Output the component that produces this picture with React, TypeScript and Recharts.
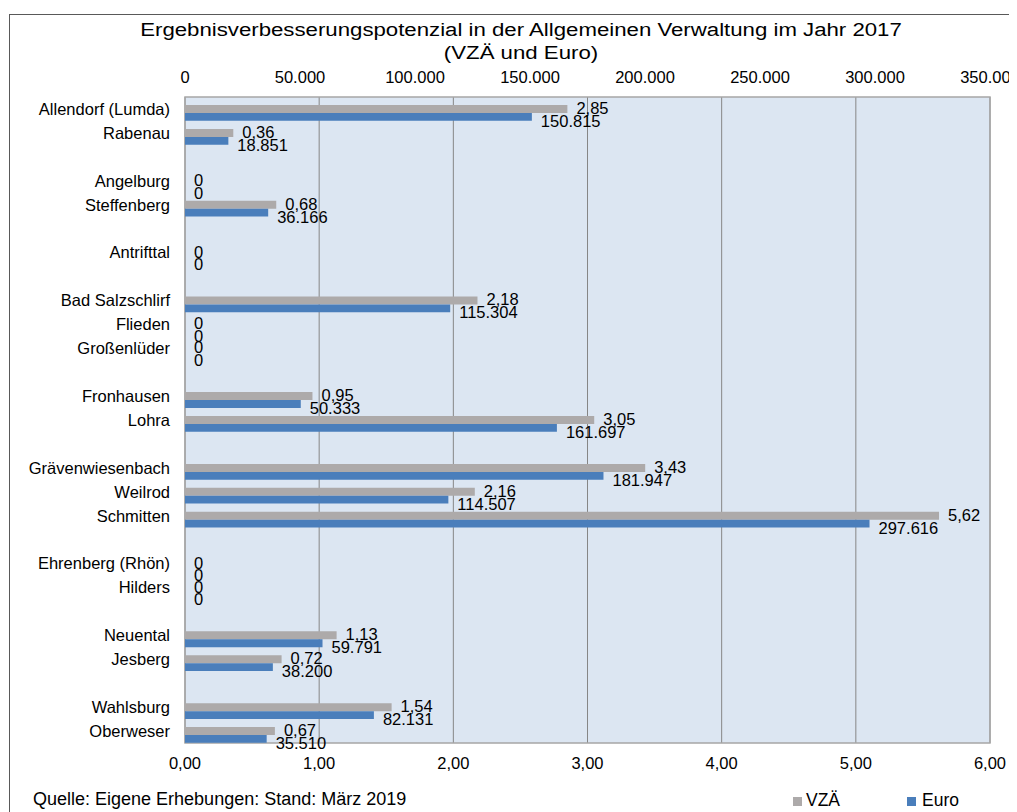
import React from "react";
import { BarChart, Bar, XAxis, YAxis, CartesianGrid, ReferenceArea, LabelList } from "recharts";

const FONT = "'Liberation Sans', Arial, Helvetica, sans-serif";

const categories = [
  "Allendorf (Lumda)", "Rabenau", "", "Angelburg", "Steffenberg", "", "Antrifttal", "",
  "Bad Salzschlirf", "Flieden", "Großenlüder", "", "Fronhausen", "Lohra", "",
  "Grävenwiesenbach", "Weilrod", "Schmitten", "", "Ehrenberg (Rhön)", "Hilders", "",
  "Neuental", "Jesberg", "", "Wahlsburg", "Oberweser",
];
const vzaValues: (number | null)[] = [
  2.85, 0.36, null, 0, 0.68, null, 0, null,
  2.18, 0, 0, null, 0.95, 3.05, null,
  3.43, 2.16, 5.62, null, 0, 0, null,
  1.13, 0.72, null, 1.54, 0.67,
];
const euroValues: (number | null)[] = [
  150815, 18851, null, 0, 36166, null, 0, null,
  115304, 0, 0, null, 50333, 161697, null,
  181947, 114507, 297616, null, 0, 0, null,
  59791, 38200, null, 82131, 35510,
];
const euroTicks = [0, 50000, 100000, 150000, 200000, 250000, 300000, 350000];
const vzaTicks = [0, 1, 2, 3, 4, 5, 6];
const titleLines = [
  "Ergebnisverbesserungspotenzial in der Allgemeinen Verwaltung im Jahr 2017",
  "(VZÄ und Euro)",
];
const sourceNote = "Quelle: Eigene Erhebungen: Stand: März 2019";
const seriesNames = ["VZÄ", "Euro"];
const seriesColors = ["#ADAAAA", "#4A7EBB"];

const data = categories.map((name, i) => ({ name, vza: vzaValues[i], euro: euroValues[i] }));

const fmtThousands = (v: number) =>
  String(Math.round(v)).replace(/\B(?=(\d{3})+(?!\d))/g, ".");
const fmtVzaTick = (v: number) => v.toFixed(2).replace(".", ",");
const fmtVzaLabel = (v: number) => (v === 0 ? "0" : v.toFixed(2).replace(".", ","));

const makeLabel = (fmt: (v: number) => string, dyBase: number) => (props: any) => {
  const vb = props.viewBox && typeof props.viewBox.x === "number" ? props.viewBox : props;
  const { x, y, height } = vb;
  const width = Math.max(0, Number(vb.width) || 0);
  const value = props.value;
  if (value === null || value === undefined || Number.isNaN(Number(value))) return null;
  const w = Number(value) === 0 ? 0 : width;
  return (
    <text
      x={x + w + 9}
      y={y + height / 2 + dyBase}
      fontSize={16.5}
      fontFamily={FONT}
      fill="#000"
      textAnchor="start"
    >
      {fmt(Number(value))}
    </text>
  );
};

const grayLabel = makeLabel(fmtVzaLabel, 5);
const blueLabel = makeLabel(fmtThousands, 10);

// keeps zero-valued bars (invisible sliver) so that their "0" labels are drawn
const zeroKeep = (value: any) => (value === 0 ? 0.01 : 0);

const tickStyle = { fontSize: 16.5, fill: "#000", fontFamily: FONT };

export default function App() {
  return (
    <div style={{ position: "relative", width: 1009, height: 804, overflow: "hidden", background: "#fff", fontFamily: FONT }}>
      <div
        style={{
          position: "absolute",
          left: 1,
          top: 6,
          width: 1200,
          height: 1000,
          borderLeft: "1px solid #595959",
          borderTop: "1px solid #595959",
        }}
      />
      <div style={{ position: "absolute", left: 0, top: 0 }}>
        <BarChart
          width={1009}
          height={770}
          data={data}
          layout="vertical"
          barCategoryGap={0}
          barGap={0}
          margin={{ top: 59, right: 27, bottom: 5, left: 0 }}
        >
          <CartesianGrid xAxisId="vza" yAxisId="cat" horizontal={false} stroke="#868686" fill="#DCE6F2" fillOpacity={1} />
          <XAxis
            xAxisId="euro"
            orientation="top"
            type="number"
            domain={[0, 350000]}
            ticks={euroTicks}
            tickFormatter={fmtThousands}
            interval={0}
            axisLine={false}
            tickLine={false}
            tickSize={0}
            tickMargin={14}
            height={30}
            tick={tickStyle}
          />
          <XAxis
            xAxisId="vza"
            orientation="bottom"
            type="number"
            domain={[0, 6]}
            ticks={vzaTicks}
            tickFormatter={fmtVzaTick}
            interval={0}
            axisLine={false}
            tickLine={false}
            tickSize={0}
            tickMargin={14}
            height={30}
            tick={tickStyle}
          />
          <YAxis
            yAxisId="cat"
            type="category"
            dataKey="name"
            width={177}
            interval={0}
            axisLine={false}
            tickLine={false}
            tickSize={0}
            tickMargin={15}
            tick={tickStyle}
          />
          <ReferenceArea
            xAxisId="vza"
            yAxisId="cat"
            x1={0}
            x2={6}
            fill="none"
            stroke="#A6A6A6"
            strokeWidth={1.5}
            ifOverflow="visible"
          />
          <Bar dataKey="spacer" xAxisId="vza" yAxisId="cat" barSize={8} fill="none" isAnimationActive={false} legendType="none" />
          <Bar dataKey="vza" name={seriesNames[0]} xAxisId="vza" yAxisId="cat" barSize={8} fill={seriesColors[0]} minPointSize={zeroKeep} isAnimationActive={false}>
            <LabelList dataKey="vza" content={grayLabel} />
          </Bar>
          <Bar dataKey="euro" name={seriesNames[1]} xAxisId="euro" yAxisId="cat" barSize={7.8} fill={seriesColors[1]} minPointSize={zeroKeep} isAnimationActive={false}>
            <LabelList dataKey="euro" content={blueLabel} />
          </Bar>
        </BarChart>
      </div>
      <svg
        width={1009}
        height={804}
        style={{ position: "absolute", left: 0, top: 0, pointerEvents: "none" }}
      >
        <text transform="translate(513,28) scale(1.17,1)" x={0} y={0} textAnchor="middle" fontSize={19} fontFamily={FONT} fill="#000">
          {titleLines[0]}
        </text>
        <text transform="translate(513,51) scale(1.17,1)" x={0} y={0} textAnchor="middle" fontSize={19} fontFamily={FONT} fill="#000">
          {titleLines[1]}
        </text>
        <text x={25} y={797} fontSize={18} fontFamily={FONT} fill="#000">
          {sourceNote}
        </text>
        <rect x={785} y={789} width={9} height={9} fill={seriesColors[0]} />
        <text x={798} y={798} fontSize={17.5} fontFamily={FONT} fill="#000">
          {seriesNames[0]}
        </text>
        <rect x={899} y={789} width={9} height={9} fill={seriesColors[1]} />
        <text x={914} y={798} fontSize={17.5} fontFamily={FONT} fill="#000">
          {seriesNames[1]}
        </text>
      </svg>
    </div>
  );
}
